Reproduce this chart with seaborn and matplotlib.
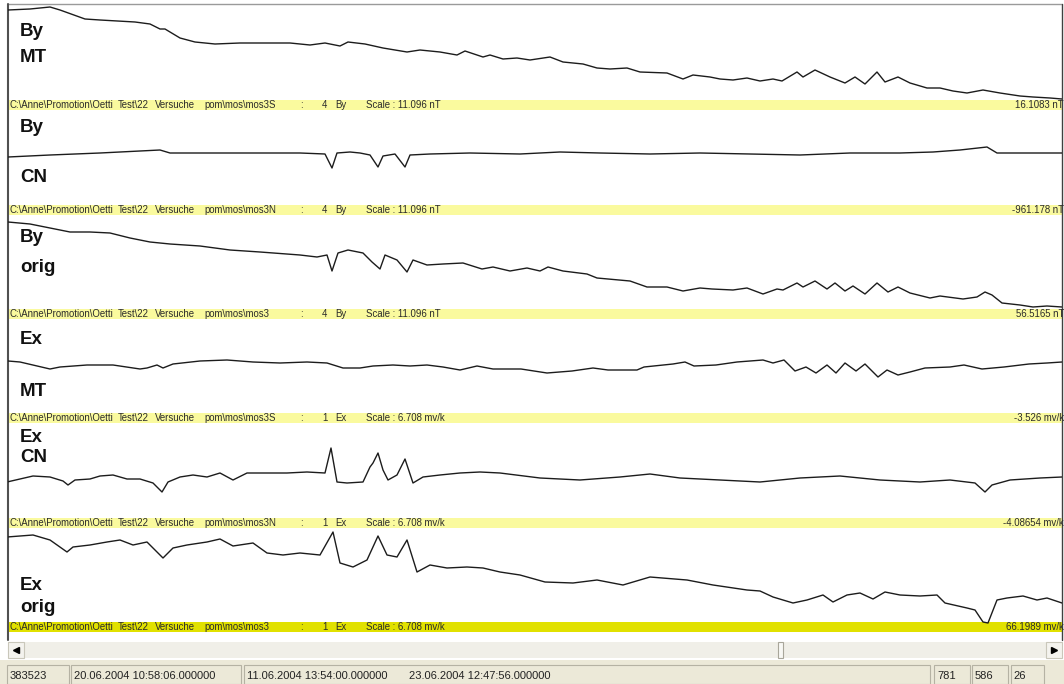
import matplotlib
matplotlib.use("Agg")
import matplotlib.pyplot as plt
from matplotlib.patches import Rectangle
import seaborn as sns

# 1. Trace data (sample column, level above the channel's base line)
by_mt_x = [8, 30, 50, 60, 85, 100, 135, 150, 160, 165, 180, 195, 215, 240, 270, 290, 310, 325, 340, 348,
           365, 383, 407, 420, 440, 457, 465, 483, 490, 503, 517, 530, 550, 563, 583, 597, 610, 627, 640, 667,
           683, 693, 710, 720, 733, 747, 760, 773, 782, 797, 803, 815, 830, 845, 855, 865, 877, 885, 898, 910,
           927, 940, 953, 967, 983, 1000, 1020, 1033, 1050, 1062]
by_mt_y = [95, 96, 98, 95, 86, 85, 83, 81, 76, 76, 67, 63, 61, 62, 62, 62, 60, 62, 59, 63,
           61, 57, 53, 55, 53, 50, 54, 48, 50, 46, 47, 45, 48, 43, 41, 37, 36, 37, 33, 32,
           26, 30, 28, 26, 25, 27, 24, 26, 24, 33, 28, 35, 28, 22, 28, 21, 33, 23, 28, 22,
           17, 17, 14, 12, 15, 12, 9, 8, 7, 6]

by_cn_x = [8, 50, 100, 160, 170, 233, 300, 325, 332, 337, 350, 360, 370, 378, 383, 395, 405, 410, 430, 470,
           520, 560, 600, 650, 700, 750, 800, 850, 900, 933, 960, 987, 997, 1033, 1062]
by_cn_y = [53, 55, 57, 60, 57, 57, 57, 56, 42, 57, 58, 57, 55, 43, 54, 56, 43, 55, 56, 57,
           56, 58, 57, 56, 57, 56, 55, 57, 57, 58, 60, 63, 57, 57, 57]

by_orig_x = [8, 30, 50, 70, 90, 110, 130, 150, 170, 200, 230, 260, 300, 317, 327, 332, 338, 348, 363, 372,
             380, 385, 397, 407, 413, 427, 443, 463, 482, 493, 510, 527, 540, 548, 563, 587, 597, 630, 647, 667,
             683, 700, 712, 733, 747, 763, 777, 783, 797, 803, 815, 827, 835, 845, 853, 865, 877, 888, 898, 910,
             930, 940, 963, 977, 985, 992, 1002, 1020, 1033, 1047, 1062]
by_orig_y = [92, 90, 86, 82, 82, 81, 76, 72, 70, 68, 64, 62, 59, 57, 59, 43, 61, 64, 61, 52,
             45, 59, 54, 42, 54, 49, 50, 51, 45, 47, 43, 46, 43, 47, 43, 40, 36, 33, 27, 27,
             23, 26, 25, 24, 26, 20, 25, 24, 31, 27, 33, 25, 31, 23, 28, 20, 31, 22, 27, 21,
             16, 18, 15, 17, 22, 19, 11, 9, 7, 8, 7]

ex_mt_x = [8, 20, 50, 60, 87, 113, 140, 147, 157, 163, 173, 200, 227, 253, 280, 307, 327, 343, 360, 373,
           393, 410, 427, 443, 460, 477, 493, 521, 547, 572, 593, 608, 637, 644, 673, 685, 694, 716, 737, 763,
           773, 784, 795, 806, 816, 827, 836, 845, 856, 865, 878, 887, 898, 910, 925, 950, 964, 982, 1004, 1029,
           1047, 1062]
ex_mt_y = [57, 56, 49, 51, 53, 53, 49, 50, 53, 50, 54, 57, 58, 56, 55, 56, 55, 50, 50, 52,
           53, 52, 53, 51, 48, 52, 49, 49, 45, 47, 50, 48, 48, 51, 54, 56, 52, 53, 56, 58,
           55, 58, 47, 51, 45, 53, 45, 55, 47, 54, 41, 48, 43, 46, 50, 51, 53, 49, 51, 54,
           55, 56]

ex_cn_x = [7, 20, 33, 50, 63, 68, 75, 90, 100, 113, 127, 140, 153, 162, 168, 180, 193, 207, 220, 233,
           247, 267, 287, 307, 325, 331, 337, 347, 363, 370, 373, 378, 383, 388, 397, 405, 413, 423, 440, 460,
           480, 500, 540, 580, 620, 650, 680, 720, 760, 800, 840, 880, 920, 950, 975, 985, 992, 1010, 1040, 1062]
ex_cn_y = [41, 44, 47, 46, 42, 38, 43, 44, 47, 48, 44, 44, 40, 31, 41, 46, 48, 46, 50, 43,
           50, 50, 50, 51, 50, 75, 41, 40, 41, 56, 60, 70, 53, 43, 48, 64, 40, 46, 48, 50,
           51, 50, 45, 43, 46, 49, 45, 43, 41, 45, 47, 43, 41, 43, 40, 31, 38, 43, 45, 46]

ex_orig_x = [7, 33, 50, 67, 73, 90, 107, 120, 133, 147, 163, 173, 187, 207, 220, 233, 253, 267, 283, 300,
             320, 333, 340, 353, 367, 378, 387, 397, 407, 417, 430, 447, 467, 483, 500, 520, 545, 573, 597, 623,
             650, 687, 713, 747, 760, 773, 793, 807, 823, 833, 847, 860, 873, 885, 900, 920, 937, 945, 967, 975,
             983, 988, 997, 1007, 1023, 1037, 1047, 1062]
ex_orig_y = [90, 92, 87, 75, 80, 82, 85, 87, 82, 85, 69, 79, 82, 85, 88, 81, 84, 74, 72, 74,
             72, 95, 64, 60, 67, 91, 72, 70, 87, 55, 62, 59, 60, 59, 55, 52, 45, 44, 47, 42,
             50, 47, 42, 37, 36, 30, 24, 27, 32, 25, 32, 34, 28, 35, 32, 31, 32, 24, 19, 17,
             5, 4, 27, 29, 31, 27, 29, 24]

traces = [(by_mt_x, by_mt_y), (by_cn_x, by_cn_y), (by_orig_x, by_orig_y),
          (ex_mt_x, ex_mt_y), (ex_cn_x, ex_cn_y), (ex_orig_x, ex_orig_y)]

labels = [("By", "MT"), ("By", "CN"), ("By", "orig"), ("Ex", "MT"), ("Ex", "CN"), ("Ex", "orig")]
files = ["mos3S", "mos3N", "mos3", "mos3S", "mos3N", "mos3"]
channels = [("4", "By"), ("4", "By"), ("4", "By"), ("1", "Ex"), ("1", "Ex"), ("1", "Ex")]
scales = ["Scale : 11.096 nT"] * 3 + ["Scale : 6.708 mv/k"] * 3
end_values = ["16.1083 nT", "-961.178 nT", "56.5165 nT", "-3.526 mv/k", "-4.08654 mv/k", "66.1989 mv/k"]

status_fields = ["383523", "20.06.2004 10:58:06.000000", "11.06.2004 13:54:00.000000",
                 "23.06.2004 12:47:56.000000", "781", "586", "26"]

# 2. Layout (pixels of the 1064x684 window)
W, H = 1064, 684
LEFT, RIGHT = 8, 1062
base_lines = [105, 210, 314, 418, 523, 627]
label_rows = [(32, 57), (128, 178), (237, 268), (340, 392), (438, 458), (586, 608)]

sns.set_theme(style="white")
plt.rcParams['font.family'] = ['Liberation Sans', 'DejaVu Sans']

fig = plt.figure(figsize=(W / 100, H / 100), dpi=100)
bg = fig.add_axes([0, 0, 1, 1])
bg.set_xlim(0, W)
bg.set_ylim(H, 0)
bg.axis('off')

# window frame
bg.plot([LEFT, RIGHT], [4, 4], color='#9a9a9a', lw=1)
bg.plot([LEFT, LEFT], [4, 640], color='#505050', lw=1.5)
bg.plot([RIGHT, RIGHT], [4, 640], color='#404040', lw=1)

for i, base in enumerate(base_lines):
    top = 4 if i == 0 else base_lines[i - 1] + 5
    bar_col = '#e1e100' if i == 5 else '#fafa9e'
    bg.add_patch(Rectangle((LEFT, base - 5), RIGHT - LEFT, 10, facecolor=bar_col, edgecolor='none'))
    txt = dict(fontsize=6.9, color='#2a2a2a', va='center')
    bg.text(9, base, "C:\\Anne\\Promotion\\Oetti", **txt)
    bg.text(118, base, "Test\\22", **txt)
    bg.text(155, base, "Versuche", **txt)
    bg.text(204, base, "pom\\mos\\" + files[i], **txt)
    bg.text(300, base, ":", **txt)
    bg.text(322, base, channels[i][0], **txt)
    bg.text(335, base, channels[i][1], **txt)
    bg.text(366, base, scales[i], **txt)
    bg.text(1064, base, end_values[i], ha='right', **txt)

    r1, r2 = label_rows[i]
    bg.text(20, r1, labels[i][0], fontsize=13.5, fontweight='bold', va='center', color='#111111')
    bg.text(20, r2, labels[i][1], fontsize=13.5, fontweight='bold', va='center', color='#111111')

    ax = fig.add_axes([LEFT / W, 1 - (base + 5) / H, (RIGHT - LEFT) / W, (base + 5 - top) / H])
    ax.patch.set_alpha(0)
    tx, ty = traces[i]
    sns.lineplot(x=tx, y=ty, ax=ax, color='#1c1c1c', linewidth=1.0, estimator=None, sort=False)
    ax.set_xlim(LEFT, RIGHT)
    ax.set_ylim(-5, base - top)
    ax.axis('off')

# scroll bar
bg.add_patch(Rectangle((LEFT, 642), RIGHT - LEFT, 16, facecolor='#f0efe8', edgecolor='none'))
for x0, mark in [(LEFT, '<'), (RIGHT - 16, '>')]:
    bg.add_patch(Rectangle((x0, 642), 16, 16, facecolor='#f4f3ee', edgecolor='#c9c7ba', lw=0.8))
    bg.plot([x0 + 8], [650], marker=mark, color='black', markersize=4)
bg.add_patch(Rectangle((778, 642), 5, 16, facecolor='#f8f8f4', edgecolor='#a8a69a', lw=0.8))

# status bar
bg.add_patch(Rectangle((0, 660), W, 24, facecolor='#ece9d8', edgecolor='none'))
boxes = [(7, 69), (71, 241), (244, 930), (934, 970), (972, 1008), (1011, 1044)]
for x0, x1 in boxes:
    bg.add_patch(Rectangle((x0, 665), x1 - x0, 19, facecolor='#ece9d8', edgecolor='#b5b2a3', lw=0.8))
text_x = [10, 74, 247, 409, 937, 975, 1013]
for x, s in zip(text_x, status_fields):
    bg.text(x, 676, s, fontsize=8, va='center', color='#222222')

fig.savefig("out.png", dpi=100)
